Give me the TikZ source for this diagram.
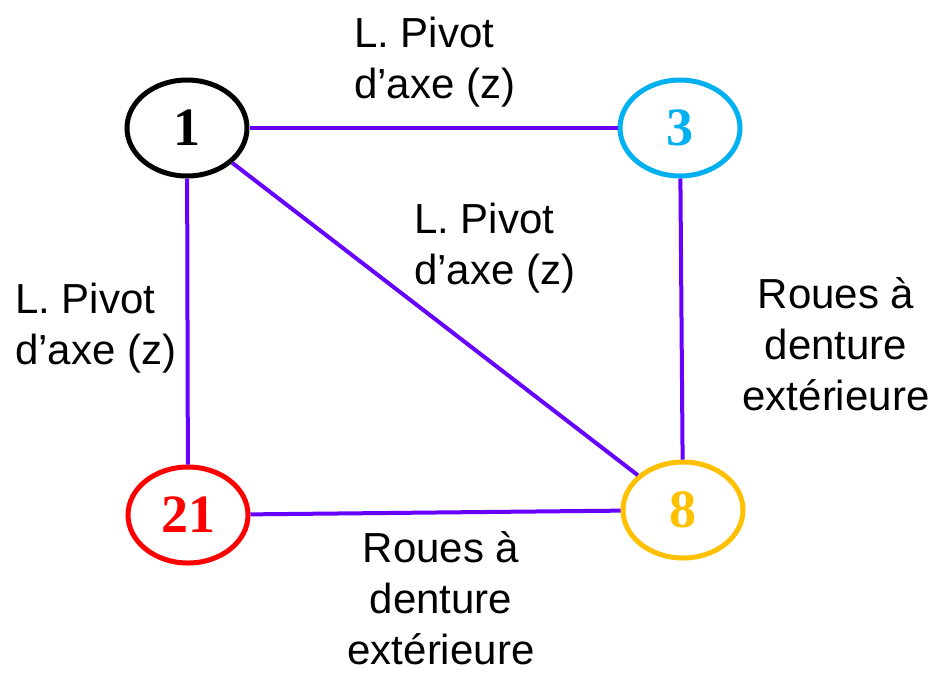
\documentclass[tikz,border=0pt]{standalone}
\usepackage{fontspec}
\setmainfont{Liberation Sans}
\newfontfamily\numfont{Liberation Serif}
\usetikzlibrary{shapes.geometric}
\definecolor{linkviolet}{HTML}{6600FF}
\definecolor{partcyan}{HTML}{00B0F0}
\definecolor{partred}{HTML}{FF0000}
\definecolor{partgold}{HTML}{FFC000}
\begin{document}
\begin{tikzpicture}[x=1pt,y=-1pt,
  part/.style={ellipse, draw, line width=5pt, minimum width=120pt,
    minimum height=96pt, inner sep=0pt,
    font=\numfont\bfseries\fontsize{54}{54}\selectfont},
  link/.style={draw=linkviolet, line width=4pt},
  lbl/.style={inner sep=0pt, font=\fontsize{42}{51}\selectfont}]
\useasboundingbox[fill=white] (0,0) rectangle (949,678);

% parts
\node[part, draw=black, text=black]       (n1)  at (187,128) {1};
\node[part, draw=partcyan, text=partcyan] (n3)  at (680,128) {3};
\node[part, draw=partred, text=partred]   (n21) at (188,515) {21};
\node[part, draw=partgold, text=partgold] (n8)  at (683,510) {8};

% links
\draw[link] (n1) -- (n3);
\draw[link] (n1) -- (n21);
\draw[link] (n1) -- (n8);
\draw[link] (n3) -- (n8);
\draw[link] (n21) -- (n8);

% link labels
\node[lbl, anchor=north west, align=left] (l13) at (354,17) {L. Pivot\\d’axe (z)};
\node[lbl, anchor=north west, align=left] (l18) at (414,203) {L. Pivot\\d’axe (z)};
\node[lbl, anchor=north west, align=left] (l121) at (15,283) {L. Pivot\\d’axe (z)};
\node[lbl, anchor=north, align=center] (l38) at (836,277) {Roues à\\denture\\extérieure};
\node[lbl, anchor=north, align=center] (l218) at (441,531) {Roues à\\denture\\extérieure};
\end{tikzpicture}
\end{document}
